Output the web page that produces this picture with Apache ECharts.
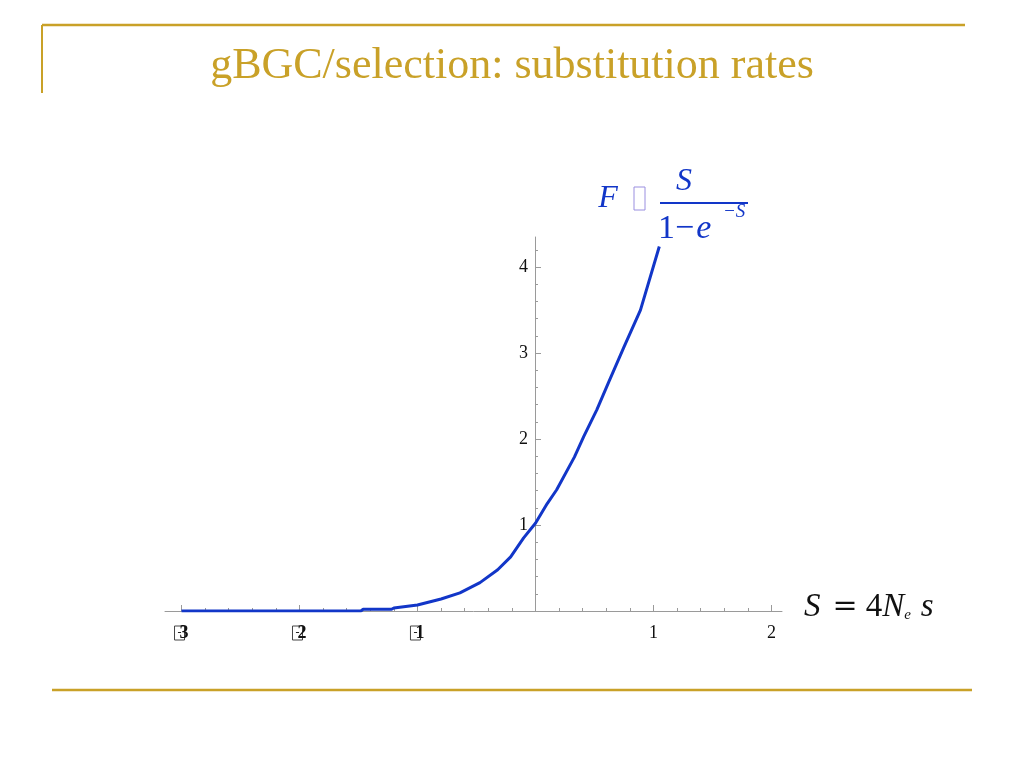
<!DOCTYPE html>
<html>
<head>
<meta charset="utf-8">
<script src="https://cdn.jsdelivr.net/npm/echarts@6/dist/echarts.min.js"></script>
<style>
html,body{margin:0;padding:0;background:#fff;}
#c{width:1024px;height:768px;}
</style>
</head>
<body>
<div id="c"></div>
<script>
// Data
var sValues = [-3, -1.48, -1.46, -1.22, -1.2, -1.0, -0.8, -0.64, -0.47, -0.32, -0.21, -0.1, 0.0, 0.1, 0.18, 0.33, 0.41, 0.52, 0.62, 0.75, 0.89, 1.05];
var fValues = [0, 0, 0.02, 0.02, 0.035, 0.07, 0.14, 0.21, 0.33, 0.48, 0.63, 0.85, 1.02, 1.25, 1.41, 1.79, 2.03, 2.34, 2.66, 3.07, 3.5, 4.24];
var xMajorTicks = [-3, -2, -1, 0, 1, 2];
var xLabelValues = [-3, -2, -1, 1, 2];
var yMajorTicks = [1, 2, 3, 4];
var titleText = 'gBGC/selection: substitution rates';

var xMinor = [];
for (var i = -15; i <= 10; i++) { if (i % 5 !== 0) xMinor.push(i / 5); }
var yMinor = [];
for (var j = 1; j <= 21; j++) { if (j % 5 !== 0) yMinor.push(j / 5); }

var points = sValues.map(function (x, k) { return [x, fValues[k]]; });

var gold = '#C9A128';
var blue = '#1236C8';
var axisGray = '#9a9a9a';
var serif = 'Liberation Serif';
var X_MIN = -3.14, X_MAX = 2.09, Y_MIN = 0, Y_MAX = 4.35;

var chart = echarts.init(document.getElementById('c'));
chart.setOption({
  animation: false,
  backgroundColor: '#fff',
  grid: [
    { left: 165, right: 242, top: 237, bottom: 157, containLabel: false },
    // narrow grid whose left edge sits at S = 0, carrying the vertical axis
    { left: 535, width: 10, top: 237, bottom: 157, containLabel: false }
  ],
  xAxis: [{
    gridIndex: 0, type: 'value', min: X_MIN, max: X_MAX,
    axisLine: { show: true, onZero: false, lineStyle: { color: axisGray, width: 1 } },
    axisTick: { show: true, inside: true, length: 6, customValues: xMajorTicks, lineStyle: { color: axisGray } },
    axisLabel: {
      show: true, customValues: xLabelValues, margin: 13,
      fontFamily: serif, fontSize: 18, color: '#111',
      formatter: function (v) {
        if (v < 0) return '{bx|-}{n|' + Math.abs(v) + '}';
        return String(v);
      },
      rich: {
        bx: { borderColor: '#444', borderWidth: 1, width: 10, height: 14, align: 'center', fontSize: 12, fontFamily: serif, color: '#111', lineHeight: 14 },
        n: { fontSize: 18, fontFamily: serif, color: '#111', fontWeight: 'bold', padding: [0, 0, 0, -5] }
      }
    },
    splitLine: { show: false }
  }, {
    gridIndex: 0, type: 'value', min: X_MIN, max: X_MAX, position: 'bottom',
    axisLine: { show: false, onZero: false },
    axisTick: { show: true, inside: true, length: 3, customValues: xMinor, lineStyle: { color: axisGray } },
    axisLabel: { show: false },
    splitLine: { show: false }
  }, {
    gridIndex: 1, type: 'value', min: 0, max: 1, show: false
  }],
  yAxis: [{
    gridIndex: 0, type: 'value', min: Y_MIN, max: Y_MAX, show: false
  }, {
    gridIndex: 1, type: 'value', min: Y_MIN, max: Y_MAX, position: 'left',
    axisLine: { show: true, onZero: false, lineStyle: { color: axisGray, width: 1 } },
    axisTick: { show: true, inside: true, length: 6, customValues: yMajorTicks, lineStyle: { color: axisGray } },
    axisLabel: { show: true, customValues: yMajorTicks, margin: 7, fontFamily: serif, fontSize: 18, color: '#111' },
    splitLine: { show: false }
  }, {
    gridIndex: 1, type: 'value', min: Y_MIN, max: Y_MAX, position: 'left',
    axisLine: { show: false, onZero: false },
    axisTick: { show: true, inside: true, length: 3, customValues: yMinor, lineStyle: { color: axisGray } },
    axisLabel: { show: false },
    splitLine: { show: false }
  }],
  series: [{
    type: 'line',
    xAxisIndex: 0, yAxisIndex: 0,
    data: points,
    showSymbol: false,
    smooth: false,
    lineStyle: { color: blue, width: 3 },
    itemStyle: { color: blue },
    z: 5
  }],
  graphic: [
    { type: 'line', shape: { x1: 42, y1: 25, x2: 965, y2: 25 }, style: { stroke: gold, lineWidth: 2.5 } },
    { type: 'line', shape: { x1: 42, y1: 25, x2: 42, y2: 93 }, style: { stroke: gold, lineWidth: 2 } },
    { type: 'line', shape: { x1: 52, y1: 690, x2: 972, y2: 690 }, style: { stroke: gold, lineWidth: 2.5 } },
    { type: 'text', x: 512, y: 66, style: { text: titleText, fill: gold, font: '44px "Liberation Serif"', textAlign: 'center', textVerticalAlign: 'middle' } },
    // formula F ≅ S / (1 - e^-S)
    { type: 'text', x: 608, y: 199, style: { text: 'F', fill: blue, font: 'italic 32px "Liberation Serif"', textAlign: 'center', textVerticalAlign: 'middle' } },
    { type: 'rect', shape: { x: 634, y: 187, width: 11, height: 23 }, style: { fill: 'none', stroke: '#9a8fe0', lineWidth: 1 } },
    { type: 'text', x: 684, y: 182, style: { text: 'S', fill: blue, font: 'italic 32px "Liberation Serif"', textAlign: 'center', textVerticalAlign: 'middle' } },
    { type: 'line', shape: { x1: 660, y1: 203, x2: 748, y2: 203 }, style: { stroke: blue, lineWidth: 2 } },
    { type: 'text', x: 658, y: 229, style: {
      text: '{u|1\u2212}{i|e}', textAlign: 'left', textVerticalAlign: 'middle',
      rich: {
        u: { fontFamily: serif, fontSize: 34, fill: blue, color: blue },
        i: { fontFamily: serif, fontStyle: 'italic', fontSize: 34, fill: blue, color: blue, padding: [0, 0, 0, 2] }
      }
    } },
    { type: 'text', x: 723, y: 212, style: { text: '\u2212S', fill: blue, font: 'italic 19px "Liberation Serif"', textAlign: 'left', textVerticalAlign: 'middle' } },
    // axis label S = 4 N_e s
    { type: 'text', x: 804, y: 607, style: {
      text: '{i|S}{eq|=}{u|4}{i|N}{sub|e}{s|s}',
      textVerticalAlign: 'middle', textAlign: 'left',
      rich: {
        i: { fontFamily: serif, fontStyle: 'italic', fontSize: 33, fill: '#111', color: '#111' },
        eq: { fontFamily: 'DejaVu Serif', fontSize: 30, fill: '#111', color: '#111', padding: [0, 8, 0, 12] },
        u: { fontFamily: serif, fontSize: 33, fill: '#111', color: '#111' },
        s: { fontFamily: serif, fontStyle: 'italic', fontSize: 33, fill: '#111', color: '#111', padding: [0, 0, 0, 10] },
        sub: { fontFamily: serif, fontStyle: 'italic', fontSize: 15, fill: '#111', color: '#111', padding: [16, 0, 0, 0] }
      }
    } }
  ]
});
</script>
</body>
</html>
